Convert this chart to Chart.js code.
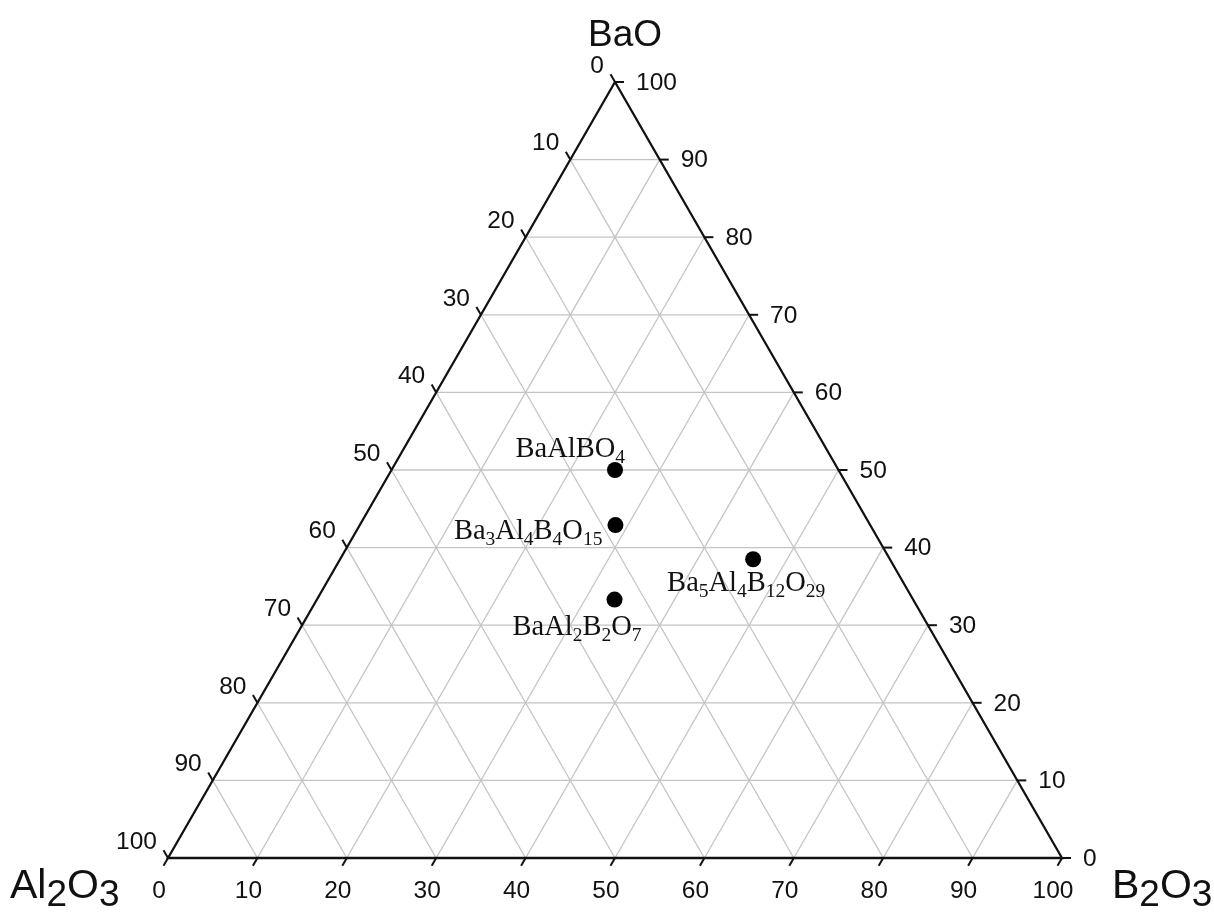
<!DOCTYPE html>
<html>
<head>
<meta charset="utf-8">
<script src="https://cdn.jsdelivr.net/npm/chart.js@4.4.1/dist/chart.umd.min.js"></script>
<style>
  html, body { margin: 0; padding: 0; background: #ffffff; }
  #wrap { width: 1214px; height: 912px; }
</style>
</head>
<body>
<div id="wrap"><canvas id="c" width="1214" height="912"></canvas></div>
<script>
// Phase compositions in the BaO–Al2O3–B2O3 system (mol %)
const compounds = ['BaAlBO4', 'Ba3Al4B4O15', 'BaAl2B2O7', 'Ba5Al4B12O29'];
const baoPct   = [50, 42.9, 33.3, 38.5];
const al2o3Pct = [25, 28.6, 33.3, 15.4];
const b2o3Pct  = [25, 28.6, 33.3, 46.2];

// Axis graduation (same on all three sides)
const tickValues = [0, 10, 20, 30, 40, 50, 60, 70, 80, 90, 100];

// Corner (component) names
const cornerTop = 'BaO';
const cornerLeft = 'Al2O3';
const cornerRight = 'B2O3';

// Ternary (BaO, B2O3) -> plane: x runs along the base, y is BaO height
function toXY(bao, b2o3) {
  return { x: b2o3 + bao / 2, y: bao };
}

// Grid lines every 10 %
const gridDatasets = [];
tickValues.slice(1, -1).forEach(v => {
  // BaO constant
  gridDatasets.push([toXY(v, 0), toXY(v, 100 - v)]);
  // Al2O3 constant
  gridDatasets.push([toXY(100 - v, 0), toXY(0, 100 - v)]);
  // B2O3 constant
  gridDatasets.push([toXY(0, v), toXY(100 - v, v)]);
});

const datasets = gridDatasets.map(pts => ({
  data: pts,
  showLine: true,
  borderColor: '#c4c4c4',
  borderWidth: 1.3,
  pointRadius: 0,
  clip: false,
  order: 3
}));

// Triangle frame
datasets.push({
  data: [toXY(100, 0), toXY(0, 0), toXY(0, 100), toXY(100, 0)],
  showLine: true,
  borderColor: '#111111',
  borderWidth: 2.3,
  pointRadius: 0,
  clip: false,
  order: 2
});

// Compound points
datasets.push({
  data: compounds.map((c, i) => toXY(baoPct[i], b2o3Pct[i])),
  showLine: false,
  pointRadius: 8,
  pointBackgroundColor: '#000000',
  pointBorderColor: '#000000',
  pointBorderWidth: 0,
  clip: false,
  order: 1
});

// Split a formula into normal text and subscript digit runs
function splitFormula(s) {
  const runs = [];
  s.replace(/(\d+|\D+)/g, m => { runs.push({ t: m, sub: /^\d/.test(m) }); return m; });
  return runs;
}

function formulaWidth(ctx, s, mainFont, subFont) {
  let w = 0;
  splitFormula(s).forEach(r => {
    ctx.font = r.sub ? subFont : mainFont;
    w += ctx.measureText(r.t).width;
  });
  return w;
}

function drawFormula(ctx, s, x, y, align, mainFont, subFont, subDy) {
  const w = formulaWidth(ctx, s, mainFont, subFont);
  let cx = align === 'right' ? x - w : align === 'center' ? x - w / 2 : x;
  ctx.textAlign = 'left';
  ctx.textBaseline = 'alphabetic';
  splitFormula(s).forEach(r => {
    ctx.font = r.sub ? subFont : mainFont;
    ctx.fillText(r.t, cx, r.sub ? y + subDy : y);
    cx += ctx.measureText(r.t).width;
  });
}

// Where each compound label sits relative to its point (pixels, baseline)
const labelPlacement = [
  { align: 'right', dx: 10,  dy: -13 },
  { align: 'right', dx: -13, dy: 14 },
  { align: 'left',  dx: -102, dy: 35 },
  { align: 'left',  dx: -86, dy: 32 }
];

const ternaryDecor = {
  id: 'ternaryDecor',
  afterDatasetsDraw(chart) {
    const { ctx, scales: { x: sx, y: sy } } = chart;
    const px = p => ({ x: sx.getPixelForValue(p.x), y: sy.getPixelForValue(p.y) });
    ctx.save();
    ctx.strokeStyle = '#111111';
    ctx.fillStyle = '#111111';
    ctx.lineWidth = 2;
    const tickFont = '24.5px "Liberation Sans", Arial, sans-serif';
    const tl = 9;
    tickValues.forEach(v => {
      // bottom side: B2O3
      let p = px(toXY(0, v));
      ctx.beginPath(); ctx.moveTo(p.x, p.y); ctx.lineTo(p.x - tl * 0.5, p.y + tl * 0.866); ctx.stroke();
      ctx.font = tickFont; ctx.textAlign = 'center'; ctx.textBaseline = 'middle';
      ctx.fillText(String(v), p.x - 9, p.y + 33);
      // left side: Al2O3
      p = px(toXY(100 - v, 0));
      ctx.beginPath(); ctx.moveTo(p.x, p.y); ctx.lineTo(p.x - tl * 0.5, p.y - tl * 0.866); ctx.stroke();
      ctx.textAlign = 'right';
      ctx.fillText(String(v), p.x - 11, p.y - 16);
      // right side: BaO
      p = px(toXY(v, 100 - v));
      ctx.beginPath(); ctx.moveTo(p.x, p.y); ctx.lineTo(p.x + tl, p.y); ctx.stroke();
      ctx.textAlign = 'left';
      ctx.fillText(String(v), p.x + 21, p.y + 1);
    });

    // compound labels
    compounds.forEach((c, i) => {
      const p = px(toXY(baoPct[i], b2o3Pct[i]));
      const lp = labelPlacement[i];
      drawFormula(ctx, c, p.x + lp.dx, p.y + lp.dy, lp.align,
        '28.5px "Liberation Serif", "Times New Roman", serif',
        '19.5px "Liberation Serif", "Times New Roman", serif', 6);
    });

    // corner names
    const top = px(toXY(100, 0));
    const left = px(toXY(0, 0));
    const right = px(toXY(0, 100));
    const cMain = '41px "Liberation Sans", Arial, sans-serif';
    const cSub = '37px "Liberation Sans", Arial, sans-serif';
    drawFormula(ctx, cornerTop, top.x + 10, top.y - 36, 'center', '37px "Liberation Sans", Arial, sans-serif', cSub, 0);
    drawFormula(ctx, cornerLeft, left.x - 158, left.y + 40, 'left', cMain, cSub, 8);
    drawFormula(ctx, cornerRight, right.x + 50, right.y + 40, 'left', cMain, cSub, 8);
    ctx.restore();
  }
};

new Chart(document.getElementById('c'), {
  type: 'scatter',
  data: { datasets },
  options: {
    responsive: false,
    animation: false,
    layout: { padding: { left: 168, right: 152, top: 82, bottom: 54 } },
    scales: {
      x: { type: 'linear', min: 0, max: 100, display: false },
      y: { type: 'linear', min: 0, max: 100, display: false }
    },
    plugins: { legend: { display: false }, tooltip: { enabled: false } }
  },
  plugins: [ternaryDecor]
});
</script>
</body>
</html>
